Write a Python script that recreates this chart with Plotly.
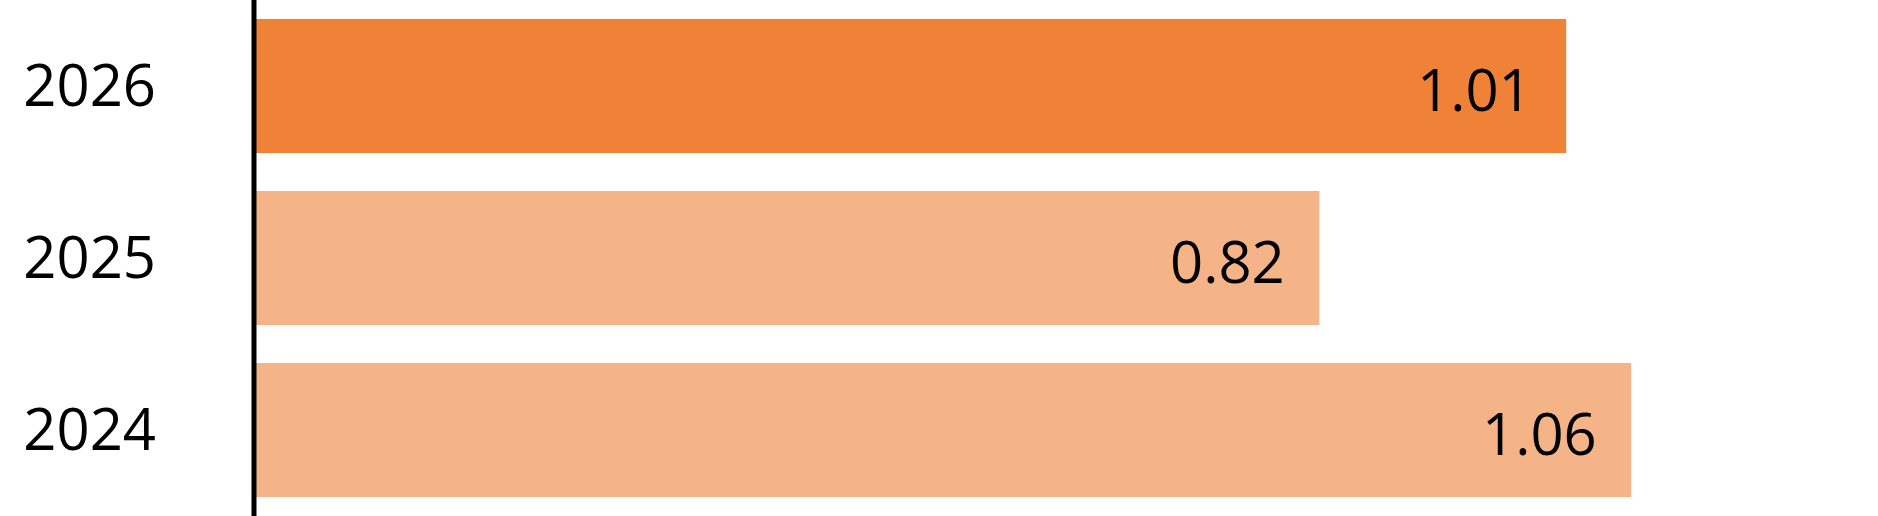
import plotly.graph_objects as go

years = [2026, 2025, 2024]
values = [1.01, 0.82, 1.06]
bar_colors = ["#F08238", "#F5B488", "#F5B488"]
value_labels = ["1.01", "0.82", "1.06"]

FONT = "Open Sans"

fig = go.Figure()

fig.add_trace(go.Bar(
    x=values,
    y=years,
    orientation="h",
    marker=dict(color=bar_colors, line=dict(width=0)),
    hoverinfo="skip",
    showlegend=False,
))

# value labels sit inside the bar end, with a wide right padding
for yr, val, lab in zip(years, values, value_labels):
    fig.add_annotation(
        x=val, y=yr, text=lab,
        xanchor="right", yanchor="middle",
        xshift=-32, yshift=-2, showarrow=False,
        font=dict(family=FONT, size=58, color="#000000"),
    )

# baseline along the left edge of the plot, over the bars
fig.add_shape(
    type="line", xref="paper", yref="paper",
    x0=0, x1=0, y0=0, y1=1,
    line=dict(color="#000000", width=5),
    layer="above",
)

fig.update_xaxes(range=[0, 1.25], visible=False, showgrid=False, zeroline=False)
fig.update_yaxes(
    type="linear",
    range=[min(years) - 0.5, max(years) + 0.5],
    tickvals=years,
    ticktext=[str(y) for y in years],
    showgrid=False, zeroline=False, showline=False,
    ticks="", ticklabelstandoff=97,
    tickfont=dict(family=FONT, size=58, color="#000000"),
)

fig.update_layout(
    width=1878, height=516,
    margin=dict(l=254, r=0, t=0, b=0),
    bargap=0.22,
    plot_bgcolor="#FFFFFF",
    paper_bgcolor="#FFFFFF",
)

fig.write_html("out.html", config={"displayModeBar": False},
               post_script="document.body.style.margin='0';")
